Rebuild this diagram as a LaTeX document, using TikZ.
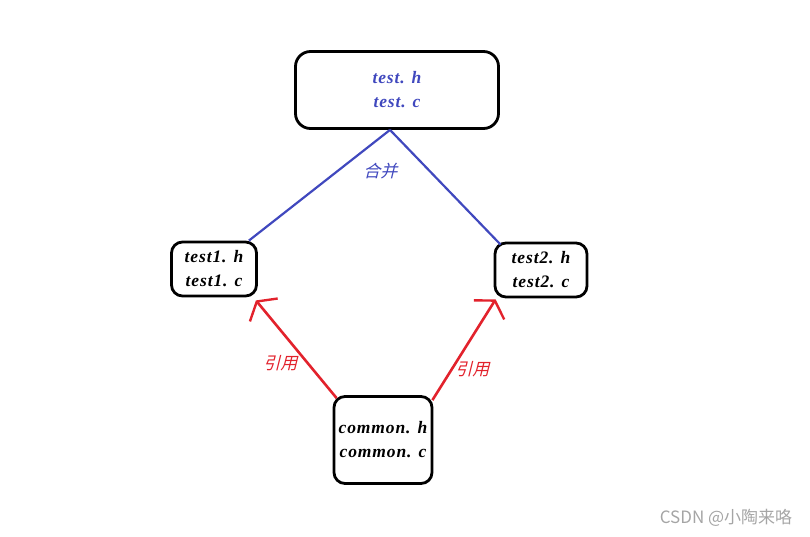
\documentclass[tikz,border=0pt]{standalone}
\usepackage{fontspec}
\setmainfont{Liberation Serif}
\newfontfamily\cjk{Noto Sans CJK SC}
\newfontfamily\wide[LetterSpace=5]{Liberation Serif}
\usetikzlibrary{arrows.meta}
\definecolor{mblue}{RGB}{64,72,190}
\definecolor{cred}{RGB}{226,34,44}
\definecolor{wmark}{RGB}{165,165,165}

\begin{document}
\begin{tikzpicture}[x=1pt, y=-1pt, font=\wide\bfseries\itshape\fontsize{17.5}{24}\selectfont,
  box/.style={draw, line width=2.8pt, rounded corners=11pt, align=center, inner sep=0pt},
  merge/.style={mblue, line width=2.2pt},
  cite/.style={cred, line width=2.6pt, -{Straight Barb[length=11pt, width=36pt, line width=2.4pt]}},
  lbl/.style={font=\cjk\fontsize{17}{20}\selectfont, xslant=0.25}]
\useasboundingbox (0,0) rectangle (810,536);
% source files
\node[box, rounded corners=15pt, minimum width=203pt, minimum height=77pt, text=mblue] (top) at (397,90) {test. h\\test. c};
\node[box, minimum width=85pt, minimum height=54pt] (t1) at (214,269) {test1. h\\test1. c};
\node[box, minimum width=92pt, minimum height=54pt] (t2) at (541,270) {test2. h\\test2. c};
\node[box, minimum width=98pt, minimum height=87pt] (com) at (383,440) {common. h\\common. c};
% merge
\draw[merge] ([xshift=-7pt]top.south) -- ([xshift=-9pt]t1.north east);
\draw[merge] ([xshift=-7pt]top.south) -- ([xshift=7pt, yshift=-3pt]t2.north west);
\node[lbl, text=mblue] (hb) at (382,171) {合并};
% include
\draw[cite] ([xshift=4pt, yshift=-3pt]com.north west) -- ([xshift=-2pt, yshift=-3pt]t1.south east);
\draw[cite] ([xshift=-1pt, yshift=-5pt]com.north east) -- ([xshift=2pt, yshift=-1pt]t2.south west);
\node[lbl, text=cred] (yy1) at (282,363) {引用};
\node[lbl, text=cred] (yy2) at (474,369) {引用};
\node[font=\cjk\fontsize{17}{20}\selectfont, text=wmark] (wm) at (726,518) {CSDN @小陶来咯};
\end{tikzpicture}
\end{document}
